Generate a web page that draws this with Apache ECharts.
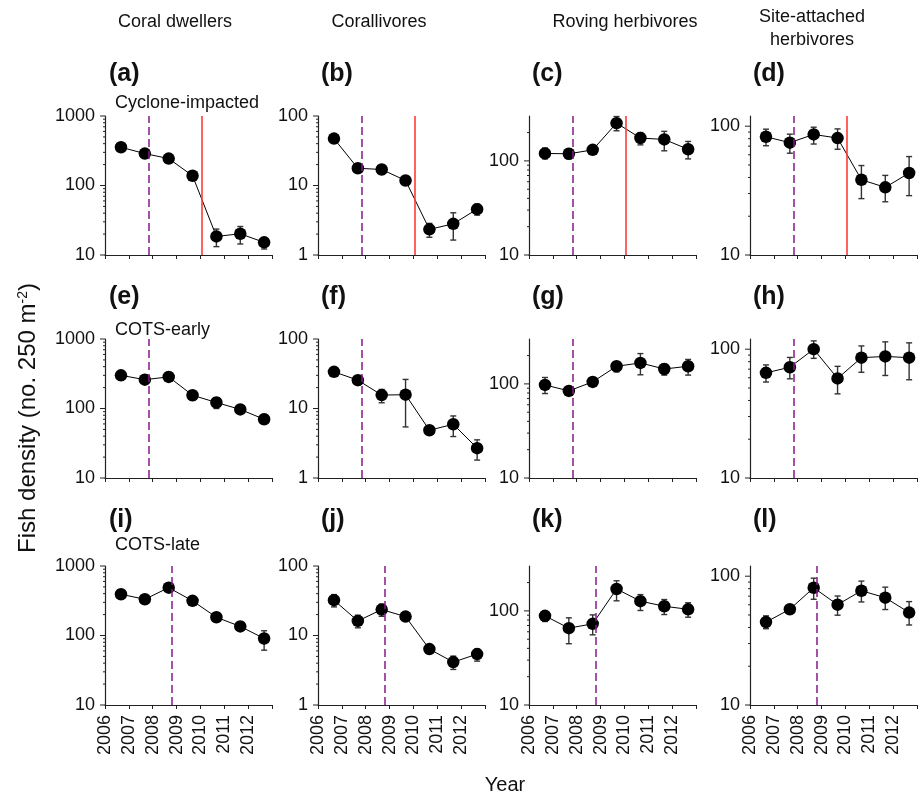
<!DOCTYPE html>
<html><head><meta charset="utf-8">
<script src="https://cdn.jsdelivr.net/npm/echarts@6/dist/echarts.min.js"></script>
<style>html,body{margin:0;padding:0;background:#fff}#c{width:920px;height:796px}</style>
</head><body><div id="c"></div>
<script>
// ---------- data ----------
const groupTitles = ['Coral dwellers', 'Corallivores', 'Roving herbivores', 'Site-attached\nherbivores'];
const siteTitles = ['Cyclone-impacted', 'COTS-early', 'COTS-late'];
const panelLetters = ['(a)','(b)','(c)','(d)','(e)','(f)','(g)','(h)','(i)','(j)','(k)','(l)'];
const surveyYears = [2006.67, 2007.67, 2008.67, 2009.67, 2010.67, 2011.67, 2012.67];
const yearTickLabels = ['2006','2007','2008','2009','2010','2011','2012'];
const yMinByGroup = [10, 1, 10, 10];
const yMaxByGroup = [1000, 100, 300, 120];
const yMajorTicks = [[10,100,1000],[1,10,100],[10,100],[10,100]];
const yMinorTicks = [
  [20,30,40,50,60,70,80,90,200,300,400,500,600,700,800,900],
  [2,3,4,5,6,7,8,9,20,30,40,50,60,70,80,90],
  [20,30,40,50,60,70,80,90,200],
  [20,30,40,50,60,70,80,90]
];
const cotsLineByRow = [2007.84, 2007.84, 2008.8];
const cycloneLine = 2010.06;

// (a) Coral dwellers, cyclone-impacted
const aMean = [355, 288, 244, 138, 18.5, 20.2, 15.2];
const aLo   = [325, 265, 225, 127, 13.2, 14.4, 12.2];
const aHi   = [388, 312, 265, 150, 23.6, 25.7, 17.7];
// (b) Corallivores, cyclone-impacted
const bMean = [47.3, 17.7, 17.0, 11.8, 2.34, 2.81, 4.57];
const bLo   = [43, 16.2, 15.6, 10.8, 1.80, 1.64, 3.75];
const bHi   = [52, 19.3, 18.5, 12.9, 2.85, 4.05, 5.4];
// (c) Roving herbivores, cyclone-impacted
const cMean = [120, 119, 131, 252, 175, 169, 133];
const cLo   = [105, 105, 122, 209, 148, 128, 105];
const cHi   = [137, 135, 141, 296, 200, 206, 161];
// (d) Site-attached herbivores, cyclone-impacted
const dMean = [82.8, 74.5, 86.3, 80.9, 38.4, 33.5, 43.3];
const dLo   = [70.5, 61.7, 72.7, 66.2, 27.4, 25.9, 28.9];
const dHi   = [94.8, 86.7, 98.2, 95.3, 49.5, 41.5, 58.1];
// (e) Coral dwellers, COTS-early
const eMean = [300, 260, 285, 155, 122, 97, 70];
const eLo   = [256, 245, 247, 131, 100, 90, 59.8];
const eHi   = [345, 278, 330, 180, 143, 105, 81.8];
// (f) Corallivores, COTS-early
const fMean = [33.7, 25.6, 15.6, 15.8, 4.87, 5.93, 2.69];
const fLo   = [31, 21.7, 12.1, 5.43, 4.5, 3.95, 1.81];
const fHi   = [36.5, 29.2, 18.8, 26.2, 5.25, 7.81, 3.54];
// (g) Roving herbivores, COTS-early
const gMean = [97.5, 84.3, 105, 154, 167, 144, 154];
const gLo   = [79, 78, 98, 134, 125, 124, 124];
const gHi   = [117, 91, 113, 171, 210, 162, 182];
// (h) Site-attached herbivores, COTS-early
const hMean = [65.5, 72.4, 100, 59.3, 85.9, 87.9, 85.9];
const hLo   = [55.6, 58.9, 84.9, 45, 66.2, 62.5, 57.9];
const hHi   = [75.5, 86.3, 116, 73.6, 106, 114, 112];
// (i) Coral dwellers, COTS-late
const iMean = [392, 332, 488, 315, 183, 135, 90.6];
const iLo   = [360, 305, 450, 290, 168, 124, 61.5];
const iHi   = [425, 360, 530, 342, 198, 146, 117];
// (j) Corallivores, COTS-late
const jMean = [32.2, 16.2, 23.6, 18.7, 6.37, 4.14, 5.40];
const jLo   = [25.8, 12.9, 18.9, 17.2, 5.9, 3.25, 4.28];
const jHi   = [38.8, 19.6, 28.2, 20.3, 6.9, 5.05, 6.36];
// (k) Roving herbivores, COTS-late
const kMean = [88.6, 65.6, 72.9, 171, 127, 112, 104];
const kLo   = [77.1, 44.8, 55.7, 128, 101, 91.5, 85.7];
const kHi   = [95.9, 84.4, 90.7, 209, 149, 132, 122];
// (l) Site-attached herbivores, COTS-late
const lMean = [44.0, 55.4, 81.3, 60.1, 77.1, 68.1, 52.2];
const lLo   = [39.1, 52, 66.2, 49.8, 63.1, 55.1, 41.8];
const lHi   = [49.2, 59, 96.5, 70.2, 91.6, 82.2, 63.5];

const panelData = [
  [aMean,aLo,aHi],[bMean,bLo,bHi],[cMean,cLo,cHi],[dMean,dLo,dHi],
  [eMean,eLo,eHi],[fMean,fLo,fHi],[gMean,gLo,gHi],[hMean,hLo,hHi],
  [iMean,iLo,iHi],[jMean,jLo,jHi],[kMean,kLo,kHi],[lMean,lLo,lHi]
];

// ---------- layout ----------
const colLeft = [105, 318, 529, 750];
const rowTop = [116, 339, 566];
const plotW = 167, plotH = 139;
const FONT = '"Liberation Sans", Arial, Helvetica, sans-serif';
const axisColor = '#222';
const dashColor = '#861A8A';
const redColor = '#FF3A3A';

const chart = echarts.init(document.getElementById('c'), null, {renderer: 'canvas'});
const grids = [], xAxes = [], yAxes = [], series = [], graphics = [];

for (let r = 0; r < 3; r++) {
  for (let c = 0; c < 4; c++) {
    const i = r * 4 + c;
    grids.push({left: colLeft[c], top: rowTop[r], width: plotW, height: plotH});
    xAxes.push({
      type: 'value', gridIndex: i, min: 2006, max: 2013, interval: 1,
      axisLine: {show: true, onZero: false, lineStyle: {color: axisColor, width: 1.2}},
      axisTick: {show: true, inside: false, length: 4, lineStyle: {color: axisColor, width: 1}},
      splitLine: {show: false},
      axisLabel: r === 2 ? {
        show: true, rotate: 90, margin: 10, fontSize: 18, color: '#111', fontFamily: FONT,
        formatter: v => yearTickLabels.includes(String(v)) ? String(v) : ''
      } : {show: false}
    });
    const majors = yMajorTicks[c];
    yAxes.push({
      type: 'log', logBase: 10, gridIndex: i, min: yMinByGroup[c], max: yMaxByGroup[c],
      axisLine: {show: true, onZero: false, lineStyle: {color: axisColor, width: 1.2}},
      axisTick: {show: false},
      splitLine: {show: false},
      minorSplitLine: {show: false},
      axisLabel: {
        show: true, fontSize: 18, color: '#111', fontFamily: FONT, margin: 10,
        showMinLabel: true, showMaxLabel: true,
        formatter: v => majors.includes(Math.round(v)) ? String(Math.round(v)) : ''
      }
    });
    const [mean, lo, hi] = panelData[i];
    // y-axis tick marks (major & minor) drawn through the log scale
    const tickData = majors.map(v => [2006, v, 1]).concat(yMinorTicks[c].map(v => [2006, v, 0]));
    series.push({
      type: 'custom', xAxisIndex: i, yAxisIndex: i, clip: false, silent: true, z: 1,
      data: tickData,
      renderItem: (params, api) => {
        const p = api.coord([api.value(0), api.value(1)]);
        const len = api.value(2) === 1 ? 5 : 2;
        return {type: 'line', shape: {x1: p[0] - len, y1: p[1], x2: p[0], y2: p[1]},
                style: {stroke: axisColor, lineWidth: 1}};
      }
    });
    // error bars
    series.push({
      type: 'custom', xAxisIndex: i, yAxisIndex: i, clip: false, silent: true, z: 2,
      data: surveyYears.map((x, k) => [x, lo[k], hi[k]]),
      renderItem: (params, api) => {
        const x = api.value(0);
        const p1 = api.coord([x, api.value(1)]);
        const p2 = api.coord([x, api.value(2)]);
        const w = 3;
        const st = {stroke: '#333', lineWidth: 1.4};
        return {type: 'group', children: [
          {type: 'line', shape: {x1: p1[0], y1: p1[1], x2: p2[0], y2: p2[1]}, style: st},
          {type: 'line', shape: {x1: p1[0] - w, y1: p1[1], x2: p1[0] + w, y2: p1[1]}, style: st},
          {type: 'line', shape: {x1: p2[0] - w, y1: p2[1], x2: p2[0] + w, y2: p2[1]}, style: st}
        ]};
      }
    });
    // disturbance lines
    const mlData = [{xAxis: cotsLineByRow[r], lineStyle: {type: [8, 4], color: dashColor, width: 1.5}}];
    if (r === 0) mlData.push({xAxis: cycloneLine, lineStyle: {type: 'solid', color: redColor, width: 1.6}});
    // mean line + points
    series.push({
      type: 'line', xAxisIndex: i, yAxisIndex: i, z: 3,
      data: surveyYears.map((x, k) => [x, mean[k]]),
      symbol: 'circle', symbolSize: 12.5, showSymbol: true,
      itemStyle: {color: '#000'},
      lineStyle: {color: '#000', width: 1},
      markLine: {silent: true, symbol: ['none', 'none'], label: {show: false}, animation: false, data: mlData},
      animation: false
    });
    // panel letter
    graphics.push({type: 'text', left: colLeft[c] + (c === 0 ? 4 : 3), top: [62, 285, 508][r],
      style: {text: panelLetters[i], fontSize: 25, fontWeight: 'bold', fontFamily: FONT, fill: '#111'}});
  }
}

// column titles
const colTitleX = [175, 379, 625, 812];
for (let c = 0; c < 4; c++) {
  graphics.push({type: 'text', x: colTitleX[c], y: c === 3 ? 29 : 22,
    style: {text: groupTitles[c], fontSize: 18, fontFamily: FONT, fill: '#111',
            align: 'center', verticalAlign: 'middle', lineHeight: 23}});
}
// site subtitles
const siteY = [103, 330, 545];
for (let r = 0; r < 3; r++) {
  graphics.push({type: 'text', x: 115, y: siteY[r],
    style: {text: siteTitles[r], fontSize: 18, fontFamily: FONT, fill: '#111',
            align: 'left', verticalAlign: 'middle'}});
}
// axis titles
graphics.push({type: 'text', x: 505, y: 785,
  style: {text: 'Year', fontSize: 20, fontFamily: FONT, fill: '#111', align: 'center', verticalAlign: 'middle'}});
graphics.push({type: 'text', x: 28, y: 418, rotation: Math.PI / 2,
  style: {text: 'Fish density (no. 250 m{sup|-2})', fontSize: 24, fontFamily: FONT, fill: '#111',
          align: 'center', verticalAlign: 'middle',
          rich: {sup: {fontSize: 14, fontFamily: FONT, fill: '#111', verticalAlign: 'top', padding: [0, 0, 10, 0]}}}});

chart.setOption({
  animation: false,
  backgroundColor: '#fff',
  grid: grids, xAxis: xAxes, yAxis: yAxes, series: series,
  graphic: graphics
});
</script></body></html>
